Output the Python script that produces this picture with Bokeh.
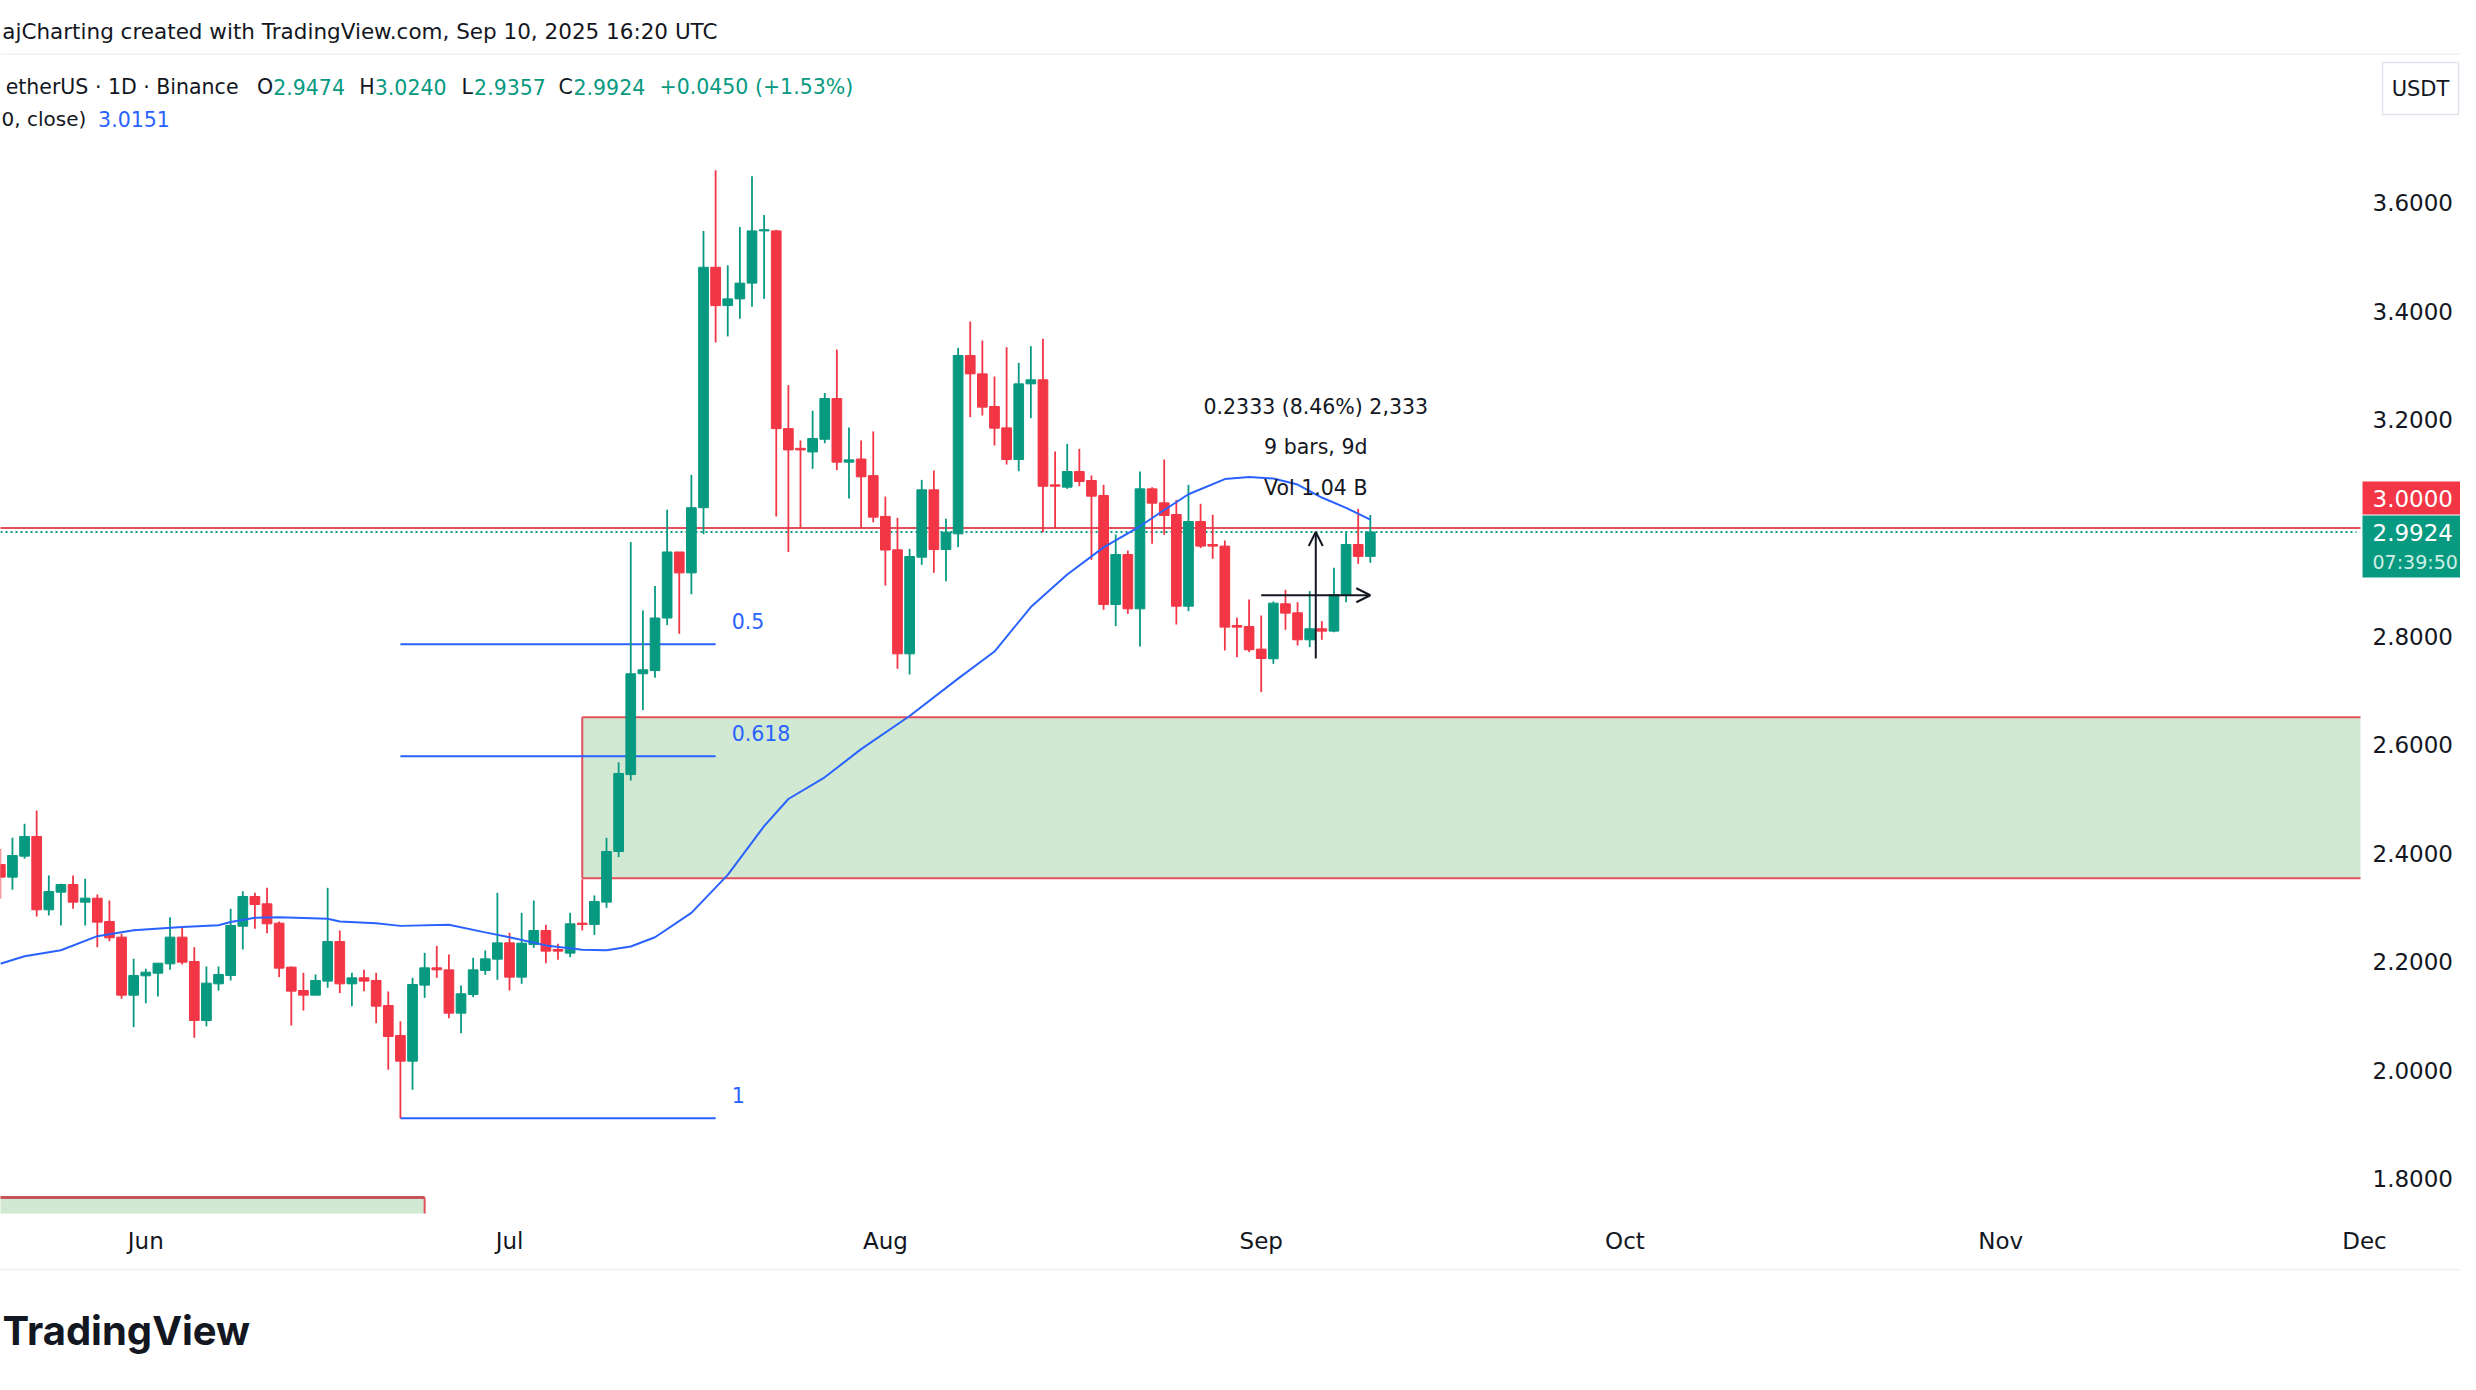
import pandas as pd
from bokeh.plotting import figure
from bokeh.models import Range1d, FixedTicker, DatetimeTickFormatter, Arrow, OpenHead, ColumnDataSource
from bokeh.layouts import column
from bokeh.core.properties import value
from bokeh.embed import file_html
from bokeh.resources import INLINE

# ---------------- data ----------------
start_date = "2025-05-20"
opens = [
    2.3792, 2.3559, 2.3946, 2.4309, 2.2956, 2.3282, 2.3423, 2.3098, 2.3171, 2.2741, 2.2452, 2.1382,
    2.1739, 2.1788, 2.1960, 2.2452, 2.2003, 2.0915, 2.1591, 2.1745, 2.2655, 2.3202,
    2.3067, 2.2710, 2.1899, 2.1468, 2.1382, 2.1641, 2.2372, 2.1591, 2.1702, 2.1653,
    2.1192, 2.0638, 2.0165, 2.1567, 2.1886, 2.1849, 2.1050, 2.1395, 2.1837, 2.2046,
    2.2347, 2.1714, 2.2317, 2.2575, 2.2225, 2.2157, 2.2710, 2.2686, 2.3098, 2.4032,
    2.5450, 2.7310, 2.7368, 2.8338, 2.9556, 2.9170, 3.0373, 3.4807, 3.4100, 3.4224,
    3.4515, 3.5478, 3.5478, 3.1831, 3.1467, 3.1401, 3.1635, 3.2386, 3.1212, 3.1270, 3.0964,
    3.0212, 2.9595, 2.7677, 2.9460, 3.0702, 2.9601, 2.9890, 3.3180, 3.2841, 3.2239,
    3.1845, 3.1261, 3.2657, 3.2731, 3.0794, 3.0751, 3.1040, 3.0874, 3.0597, 2.8587,
    2.9509, 2.8507, 3.0720, 3.0462, 3.0247, 2.8556, 3.0118, 2.9694, 2.9664, 2.8200, 2.8182,
    2.7764, 2.7586, 2.8600, 2.8434, 2.7936, 2.8139, 2.8096, 2.8766, 2.9694, 2.9474,
]
highs = [
    2.4081, 2.4284, 2.4542, 2.4788, 2.3589, 2.3436, 2.3589, 2.3528, 2.3239, 2.3128, 2.2513, 2.2052,
    2.1868, 2.1972, 2.2821, 2.2649, 2.2268, 2.1911, 2.1911, 2.2975, 2.3300, 2.3270,
    2.3362, 2.2741, 2.1911, 2.1794, 2.1763, 2.3362, 2.2575, 2.1794, 2.1849, 2.1794,
    2.1450, 2.0903, 2.1702, 2.2163, 2.2292, 2.2132, 2.1561, 2.2071, 2.2206, 2.3270,
    2.2532, 2.2901, 2.3128, 2.2679, 2.2329, 2.2901, 2.3520, 2.3221, 2.4284, 2.5676,
    2.9738, 2.8477, 2.8929, 3.0336, 2.9556, 3.0978, 3.5478, 3.6594, 3.4843, 3.5551,
    3.6484, 3.5770, 3.5500, 3.2634, 3.1613, 3.2160, 3.2488, 3.3290, 3.1853, 3.1613, 3.1780,
    3.0577, 3.0186, 2.9614, 3.0886, 3.1059, 3.0167, 3.3321, 3.3807, 3.3456, 3.2792,
    3.3333, 3.3044, 3.3352, 3.3487, 3.1409, 3.1550, 3.1458, 3.0966, 3.0794, 2.9878,
    2.9583, 3.1040, 3.0751, 3.1261, 3.0517, 3.0794, 3.0444, 3.0241, 2.9768, 2.8342, 2.8680,
    2.8385, 2.8643, 2.8858, 2.8631, 2.8834, 2.8280, 2.9264, 2.9934, 3.0352, 3.0240,
]
lows = [
    2.3159, 2.3325, 2.3897, 2.2833, 2.2852, 2.2667, 2.2975, 2.2667, 2.2268, 2.2378, 2.1315, 2.0792,
    2.1235, 2.1358, 2.1849, 2.1948, 2.0595, 2.0810, 2.1468, 2.1653, 2.2225, 2.2606,
    2.2526, 2.1714, 2.0823, 2.1099, 2.1382, 2.1518, 2.1419, 2.1179, 2.1456, 2.0866,
    2.0005, 1.9110, 1.9636, 2.1333, 2.1702, 2.0958, 2.0681, 2.1345, 2.1757, 2.1665,
    2.1468, 2.1591, 2.2255, 2.1972, 2.2034, 2.2083, 2.2575, 2.2495, 2.2993, 2.3927,
    2.5341, 2.6639, 2.7237, 2.8207, 2.8047, 2.8776, 2.9884, 3.3421, 3.3531, 3.3859,
    3.4078, 3.4224, 3.0212, 2.9556, 2.9994, 3.1088, 3.1562, 3.1066, 3.0541, 2.9994, 3.0103,
    2.8936, 2.7401, 2.7296, 2.9319, 2.9171, 2.9017, 2.9645, 3.2042, 3.2073, 3.1520,
    3.1169, 3.1046, 3.2024, 2.9921, 2.9995, 3.0720, 3.0769, 2.9411, 2.8489, 2.8188,
    2.8415, 2.7812, 2.9706, 2.9872, 2.8218, 2.8464, 2.9627, 2.9430, 2.7739, 2.7616, 2.7709,
    2.6971, 2.7493, 2.8120, 2.7831, 2.7801, 2.7936, 2.8077, 2.8631, 2.9338, 2.9357,
]
closes = [
    2.3559, 2.3958, 2.4309, 2.2956, 2.3294, 2.3423, 2.3098, 2.3171, 2.2729, 2.2440, 2.1382, 2.1745,
    2.1806, 2.1972, 2.2452, 2.1991, 2.0915, 2.1604, 2.1763, 2.2667, 2.3202, 2.3054,
    2.2698, 2.1880, 2.1456, 2.1382, 2.1653, 2.2372, 2.1591, 2.1702, 2.1641, 2.1179,
    2.0620, 2.0165, 2.1579, 2.1886, 2.1849, 2.1050, 2.1407, 2.1849, 2.2052, 2.2347,
    2.1714, 2.2341, 2.2575, 2.2194, 2.2194, 2.2698, 2.2686, 2.3110, 2.4032, 2.5472,
    2.7310, 2.7383, 2.8338, 2.9556, 2.9170, 3.0373, 3.4807, 3.4100, 3.4224, 3.4515,
    3.5478, 3.5500, 3.1831, 3.1438, 3.1438, 3.1649, 3.2386, 3.1212, 3.1255, 3.0942, 3.0198,
    2.9592, 2.7677, 2.9472, 3.0702, 2.9601, 2.9921, 3.3180, 3.2841, 3.2227, 3.1839,
    3.1261, 3.2657, 3.2731, 3.0769, 3.0769, 3.1040, 3.0856, 3.0585, 2.8587, 2.9509,
    2.8507, 3.0720, 3.0456, 3.0229, 2.8556, 3.0118, 2.9664, 2.9664, 2.8170, 2.8170, 2.7752,
    2.7591, 2.8612, 2.8428, 2.7936, 2.8139, 2.8096, 2.8766, 2.9694, 2.9474, 2.9924,
]

# moving average line
ma_dates = ["2025-05-20", "2025-05-22", "2025-05-25", "2025-05-28", "2025-05-31", "2025-06-04",
            "2025-06-07", "2025-06-08", "2025-06-10", "2025-06-12", "2025-06-16", "2025-06-17",
            "2025-06-20", "2025-06-22", "2025-06-26", "2025-06-29", "2025-07-01", "2025-07-04",
            "2025-07-07", "2025-07-09", "2025-07-11", "2025-07-13", "2025-07-16", "2025-07-19",
            "2025-07-20", "2025-07-22", "2025-07-24", "2025-07-27", "2025-07-30", "2025-08-03",
            "2025-08-07", "2025-08-10", "2025-08-13", "2025-08-16", "2025-08-19", "2025-08-22",
            "2025-08-24", "2025-08-26", "2025-08-29", "2025-08-31", "2025-09-02", "2025-09-04",
            "2025-09-06", "2025-09-08", "2025-09-10"]
ma_values = [2.196, 2.210, 2.221, 2.247, 2.258, 2.264, 2.267, 2.273, 2.281, 2.282, 2.279, 2.274,
             2.271, 2.266, 2.268, 2.254, 2.245, 2.230, 2.222, 2.221, 2.228, 2.245, 2.290, 2.360,
             2.390, 2.450, 2.500, 2.540, 2.592, 2.653, 2.722, 2.772, 2.854, 2.914, 2.964, 3.003,
             3.033, 3.062, 3.090, 3.094, 3.091, 3.080, 3.056, 3.037, 3.0151]

# drawings
zone_start = "2025-07-07"
zone_top = 2.6509
zone_bottom = 2.3540
low_zone_end = "2025-06-24"
low_zone_top = 1.765
hline_price = 3.0
fib_start = "2025-06-22"
fib_end = "2025-07-18"
fib_levels = [0.5, 0.618, 1]
measure_start = "2025-09-01"
measure_end = "2025-09-10"
measure_volume = "1.04 B"
countdown = "07:39:50"

month_ticks = ["2025-06-01", "2025-07-01", "2025-08-01", "2025-09-01",
               "2025-10-01", "2025-11-01", "2025-12-01"]
price_ticks = [1.8, 2.0, 2.2, 2.4, 2.6, 2.8, 3.0, 3.2, 3.4, 3.6]

# ---------------- layout helpers ----------------
FONT = value("DejaVu Sans")
INK = "#131722"
UP = "#089981"
DOWN = "#F23645"
BLUE = "#2962FF"
EDGE_RED = "#E34F5A"
W = 2460
X_JUN1, PX_DAY = 145.3, 12.124     # pixel of Jun 1 and pixels per day
Y_P3, PX_UNIT = 527.4, 542.2       # pixel of price 3.0 and pixels per 1.0
SCALE_X = 2362                     # left edge of the price scale column
JUN1 = pd.Timestamp("2025-06-01")
DAY_MS = 86400000.0


def ms(t):
    return pd.Timestamp(t).value / 1e6


def xr(rx):
    return ms(JUN1) + (rx - X_JUN1) / PX_DAY * DAY_MS


def yr(ry):
    return 3.0 - (ry - Y_P3) / PX_UNIT


dates = pd.date_range(start_date, periods=len(opens), freq="D")
src = ColumnDataSource(dict(
    x=dates, high=highs, low=lows,
    top=[max(o, c) for o, c in zip(opens, closes)],
    bottom=[min(o, c) for o, c in zip(opens, closes)],
    color=[UP if c >= o else DOWN for o, c in zip(opens, closes)],
))

# ---------------- header ----------------
hdr = figure(width=W, height=55, x_range=Range1d(0, W), y_range=Range1d(55, 0),
             x_axis_location=None, y_axis_location=None, toolbar_location=None,
             output_backend="svg", min_border=0, outline_line_color=None)
hdr.grid.visible = False
hdr.text(x=[717], y=[31], text=["ajCharting created with TradingView.com, Sep 10, 2025 16:20 UTC"],
         text_align="right", text_baseline="middle", text_font=FONT, text_font_size="21.5px",
         text_color=INK)
hdr.segment(x0=[0], x1=[W], y0=[54], y1=[54], line_color="#EEF0F4", line_width=2)

# ---------------- main chart ----------------
p = figure(width=W, height=1213, x_axis_type="datetime",
           x_range=Range1d(xr(0), xr(W)), y_range=Range1d(yr(1213), yr(55)),
           y_axis_location=None, toolbar_location=None, output_backend="svg",
           min_border_left=0, min_border_right=0, min_border_top=0, min_border_bottom=55,
           outline_line_color=None, background_fill_color="white", border_fill_color="white")
p.grid.visible = False

ax = p.xaxis[0]
ax.ticker = FixedTicker(ticks=[ms(m) for m in month_ticks])
ax.formatter = DatetimeTickFormatter(days="%b", months="%b", years="%b")
ax.axis_line_color = None
ax.major_tick_line_color = None
ax.minor_tick_line_color = None
ax.major_tick_out = 0
ax.major_tick_in = 0
ax.major_label_standoff = 14
ax.major_label_text_font = "DejaVu Sans"
ax.major_label_text_font_size = "23px"
ax.major_label_text_color = INK

axis_x = xr(SCALE_X - 2)

# zones
p.quad(left=[ms(zone_start)], right=[axis_x], top=[zone_top], bottom=[zone_bottom],
       fill_color="#D1E9D2", line_color=None)
p.multi_line(xs=[[ms(zone_start), axis_x], [ms(zone_start), axis_x], [ms(zone_start), ms(zone_start)]],
             ys=[[zone_top, zone_top], [zone_bottom, zone_bottom], [zone_top, zone_bottom]],
             line_color=EDGE_RED, line_width=2)
p.quad(left=[ms("2025-04-20")], right=[ms(low_zone_end)], top=[low_zone_top], bottom=[1.55],
       fill_color="#D1E9D2", line_color=None)
p.multi_line(xs=[[ms("2025-04-20"), ms(low_zone_end)], [ms(low_zone_end), ms(low_zone_end)]],
             ys=[[low_zone_top, low_zone_top], [low_zone_top, 1.55]],
             line_color=["#C4535A", EDGE_RED], line_width=[3, 2])

# horizontal line and current price line
p.segment(x0=[xr(-10)], x1=[axis_x], y0=[hline_price], y1=[hline_price], line_color=EDGE_RED, line_width=2)
p.segment(x0=[xr(-10)], x1=[xr(SCALE_X - 6)], y0=[closes[-1]], y1=[closes[-1]], line_color=UP,
          line_width=2, line_dash="2 3")

# fib retracement
i_lo = list(dates).index(pd.Timestamp(fib_start))
i_hi = list(dates).index(pd.Timestamp(fib_end))
fib_low, fib_high = lows[i_lo], highs[i_hi]
fib_prices = [fib_high - lv * (fib_high - fib_low) for lv in fib_levels]
p.segment(x0=[ms(fib_start)] * 3, x1=[ms(fib_end)] * 3, y0=fib_prices, y1=fib_prices,
          line_color=BLUE, line_width=2)
p.text(x=[ms(fib_end)] * 3, y=fib_prices, text=[str(lv) for lv in fib_levels],
       x_offset=16, y_offset=-23, text_align="left", text_baseline="middle",
       text_font=FONT, text_font_size="20.5px", text_color=BLUE)

# candles
p.segment(x0="x", x1="x", y0="low", y1="high", line_color="color", line_width=1.8, source=src)
p.vbar(x="x", width=0.8 * DAY_MS, top="top", bottom="bottom", fill_color="color",
       line_color="color", line_width=1, source=src)

# moving average
p.line(x=pd.to_datetime(ma_dates), y=ma_values, line_color=BLUE, line_width=2)

# date & price range measurement
i_ms = list(dates).index(pd.Timestamp(measure_start))
m_base, m_top = closes[i_ms], closes[-1]
m_diff = m_top - m_base
m_bars = len(dates) - 1 - i_ms
mid_x = (ms(measure_start) + ms(measure_end)) / 2
mid_y = (m_base + m_top) / 2
p.add_layout(Arrow(end=OpenHead(size=14, line_color=INK, line_width=2),
                   x_start=mid_x, y_start=m_base, x_end=mid_x, y_end=m_top,
                   line_color=INK, line_width=2))
p.add_layout(Arrow(end=OpenHead(size=14, line_color=INK, line_width=2),
                   x_start=ms(measure_start), y_start=mid_y, x_end=ms(measure_end), y_end=mid_y,
                   line_color=INK, line_width=2))
m_texts = [f"{m_diff:.4f} ({m_diff / m_base * 100:.2f}%) {int(round(m_diff * 10000)):,}",
           f"{m_bars} bars, {m_bars}d", f"Vol {measure_volume}"]
p.text(x=[mid_x] * 3, y=[m_top] * 3, text=m_texts, y_offset=[-125, -85, -44],
       text_align="center", text_baseline="middle", text_font=FONT, text_font_size="20.5px",
       text_color=INK)

# legend lines
chg = closes[-1] - closes[-2]
leg_y2, leg_y3 = yr(86), yr(118)
p.text(x=[xr(238)], y=[leg_y2], text=["etherUS · 1D · Binance"], text_align="right",
       text_baseline="middle", text_font=FONT, text_font_size="20.5px", text_color=INK)
leg_items = [("O", 256.6, INK), (f"{opens[-1]:.4f}", 272.7, UP),
             ("H", 358.8, INK), (f"{highs[-1]:.4f}", 374.3, UP),
             ("L", 461.0, INK), (f"{lows[-1]:.4f}", 473.6, UP),
             ("C", 558.0, INK), (f"{closes[-1]:.4f}", 573.0, UP),
             (f"{chg:+.4f} ({chg / closes[-2] * 100:+.2f}%)", 659.0, UP)]
p.text(x=[xr(t[1]) for t in leg_items], y=[leg_y2] * len(leg_items), text=[t[0] for t in leg_items],
       text_color=[t[2] for t in leg_items], text_align="left", text_baseline="middle",
       text_font=FONT, text_font_size="20.5px")
p.text(x=[xr(1)], y=[leg_y3], text=["0, close)"], text_align="left", text_baseline="middle",
       text_font=FONT, text_font_size="20px", text_color=INK)
p.text(x=[xr(97.6)], y=[leg_y3], text=[f"{ma_values[-1]:.4f}"], text_align="left",
       text_baseline="middle", text_font=FONT, text_font_size="20.5px", text_color=BLUE)

# price scale column
p.text(x=[xr(SCALE_X + 10)] * len(price_ticks), y=price_ticks, text=[f"{t:.4f}" for t in price_ticks],
       text_align="left", text_baseline="middle", text_font=FONT, text_font_size="23px",
       text_color=INK)
p.quad(left=[xr(SCALE_X)], right=[xr(W + 20)], top=[yr(481)], bottom=[yr(514)],
       fill_color=DOWN, line_color=None)
p.quad(left=[xr(SCALE_X)], right=[xr(W + 20)], top=[yr(515)], bottom=[yr(577)],
       fill_color=UP, line_color=None)
p.text(x=[xr(SCALE_X + 10)] * 2, y=[yr(497.5), yr(531.5)],
       text=[f"{hline_price:.4f}", f"{closes[-1]:.4f}"],
       text_color="white", text_align="left", text_baseline="middle",
       text_font=FONT, text_font_size="23px")
p.text(x=[xr(SCALE_X + 10)], y=[yr(561)], text=[countdown], text_color="#CDEFE4",
       text_align="left", text_baseline="middle", text_font=FONT, text_font_size="19px")
p.quad(left=[xr(SCALE_X + 20)], right=[xr(W - 2)], top=[yr(62)], bottom=[yr(114)],
       fill_color="white", line_color="#E0E3EB", line_width=1.5)
p.text(x=[xr((SCALE_X + 20 + W - 2) / 2)], y=[yr(88)], text=["USDT"], text_align="center",
       text_baseline="middle", text_font=FONT, text_font_size="21px", text_color=INK)

# ---------------- footer ----------------
ftr = figure(width=W, height=106, x_range=Range1d(0, W), y_range=Range1d(1374, 1268),
             x_axis_location=None, y_axis_location=None, toolbar_location=None,
             output_backend="svg", min_border=0, outline_line_color=None)
ftr.grid.visible = False
ftr.segment(x0=[0], x1=[W], y0=[1269], y1=[1269], line_color="#EEF0F4", line_width=2)
ftr.text(x=[2], y=[1330], text=["TradingView"], text_align="left", text_baseline="middle",
         text_font=value("Inter"), text_font_style="bold", text_font_size="40px", text_color=INK)

layout = column(hdr, p, ftr)
open("out.html", "w").write(file_html(layout, INLINE))
